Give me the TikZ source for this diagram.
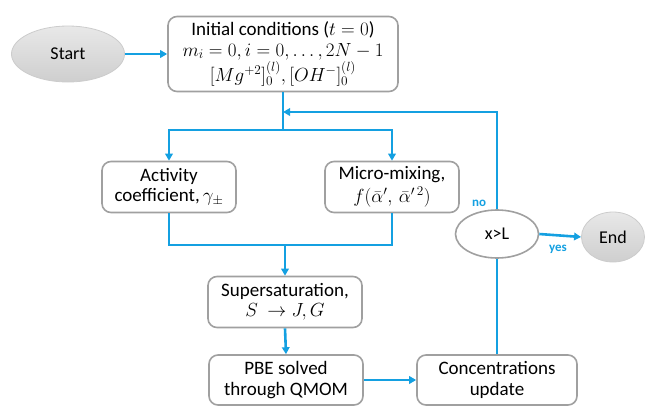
\RequirePackage{fix-cm}
\documentclass[tikz,border=0pt]{standalone}
\usepackage{fontspec}
\setmainfont{Carlito}
\usetikzlibrary{arrows.meta,shapes.geometric}
\definecolor{flowblue}{RGB}{20,160,225}
\definecolor{boxgray}{RGB}{160,160,160}
\newcommand\mbig{\fontsize{19}{20}\selectfont}
\tikzset{
  procbox/.style={draw=boxgray,line width=1.6pt,rounded corners=9pt,fill=white,align=center,
    font=\fontsize{19}{20.5}\selectfont,inner sep=0pt},
  termnode/.style={ellipse,draw=gray!40,line width=0.8pt,top color=gray!18,bottom color=gray!38,
    font=\fontsize{18}{20}\selectfont,inner sep=0pt},
  decnode/.style={ellipse,draw=boxgray,line width=1.6pt,fill=white,font=\fontsize{18}{20}\selectfont,inner sep=0pt},
  flow/.style={draw=flowblue,line width=2.6pt},
  flowarr/.style={flow,-{Triangle[length=7pt,width=7.5pt]}},
  lbl/.style={text=flowblue,font=\bfseries\fontsize{13}{14}\selectfont}
}
\begin{document}
\begin{tikzpicture}[x=1pt,y=-1pt]
\useasboundingbox (0,0) rectangle (645,405);
\node[termnode,minimum width=113pt,minimum height=56pt] (start) at (68,54) {Start};
\node[procbox,minimum width=230pt,minimum height=75pt] (init) at (283,54)
  {Initial conditions ({\mbig$t=0$})\\ {\mbig$m_i=0, i=0,\ldots,2N-1$}\\[1pt] {\mbig$[Mg^{+2}]_0^{(l)},[OH^-]_0^{(l)}$}};
\node[procbox,minimum width=134pt,minimum height=51pt] (act) at (169,187)
  {Activity\\ coefficient,\,{\mbig$\gamma_{\pm}$}};
\node[procbox,minimum width=134pt,minimum height=51pt] (mix) at (392,187)
  {Micro-mixing,\\[2pt] {\mbig$f\bigl(\bar{\alpha}{}',\,\bar{\alpha}{}'^{\,2}\bigr)$}};
\node[procbox,minimum width=154pt,minimum height=51pt] (sup) at (285,302)
  {Supersaturation,\\ {\mbig$S\ \to J,G$}};
\node[procbox,minimum width=154pt,minimum height=50pt] (pbe) at (286,380)
  {PBE solved\\ through QMOM};
\node[procbox,minimum width=160pt,minimum height=50pt] (conc) at (497,380)
  {Concentrations\\ update};
\node[decnode,minimum width=83pt,minimum height=48pt] (dec) at (497,234) {x>L};
\node[termnode,minimum width=63pt,minimum height=50pt] (end) at (613,237) {End};

\coordinate (b1) at (283,130);
\coordinate (b2) at (285,245);
\coordinate (ret) at (283,112);
\coordinate (top) at (497,112);

\draw[flowarr] (start.east) -- (init.west);
\draw[flow] (init.south) -- (b1);
\draw[flowarr] (b1) -| (act.north);
\draw[flowarr] (b1) -| (mix.north);
\draw[flow] (act.south) |- (b2);
\draw[flow] (mix.south) |- (b2);
\draw[flowarr] (b2) -- (sup.north);
\draw[flowarr] (sup.south) -- (pbe.north);
\draw[flowarr] (pbe.east) -- (conc.west);
\draw[flow] (conc.north) -- (dec.south);
\draw[flowarr] (dec.north) -- (top) -- (ret);
\draw[flowarr] (dec.east) -- (end.west);
\node[lbl] (no) at (479,203) {no};
\node[lbl] (yes) at (558,249) {yes};
\end{tikzpicture}
\end{document}
